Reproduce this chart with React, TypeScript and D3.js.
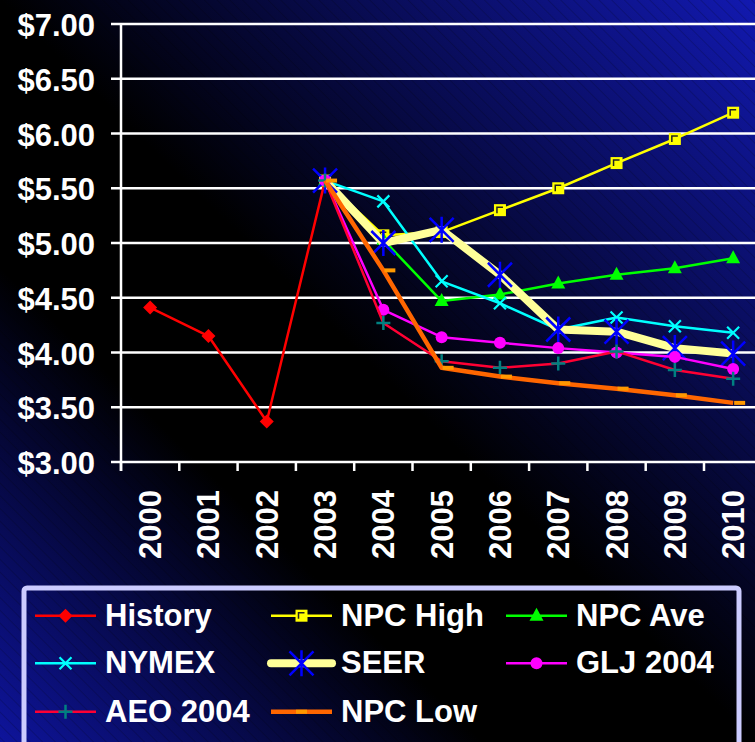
import React from 'react';
import * as d3 from 'd3';

const years = ['2000', '2001', '2002', '2003', '2004', '2005', '2006', '2007', '2008', '2009', '2010'];
const yTicks = [3, 3.5, 4, 4.5, 5, 5.5, 6, 6.5, 7];

const historyYears = ['2000', '2001', '2002', '2003'];
const historyValues = [4.41, 4.15, 3.37, 5.57];

const forecastYears = ['2003', '2004', '2005', '2006', '2007', '2008', '2009', '2010'];
const npcHigh = [5.57, 5.07, 5.10, 5.30, 5.50, 5.73, 5.95, 6.19];
const npcAve = [5.57, 5.03, 4.47, 4.53, 4.63, 4.71, 4.77, 4.86];
const nymex = [5.57, 5.38, 4.65, 4.45, 4.21, 4.32, 4.24, 4.18];
const seer = [5.57, 5.00, 5.12, 4.71, 4.21, 4.19, 4.04, 3.99];
const glj = [5.57, 4.39, 4.14, 4.09, 4.04, 4.00, 3.96, 3.85];
const aeo = [5.57, 4.27, 3.92, 3.86, 3.90, 4.01, 3.84, 3.76];
const npcLow = [5.57, 4.75, 3.86, 3.78, 3.72, 3.67, 3.61, 3.54];

type Marker = 'diamond' | 'square' | 'triangle' | 'x' | 'asterisk' | 'circle' | 'plus' | 'dash';

interface Series {
  name: string;
  xs: string[];
  values: number[];
  line: string;
  width: number;
  marker: Marker;
  markerColor: string;
}

const series: Series[] = [
  { name: 'History', xs: historyYears, values: historyValues, line: '#FF0000', width: 2.5, marker: 'diamond', markerColor: '#FF0000' },
  { name: 'NPC High', xs: forecastYears, values: npcHigh, line: '#FFFF00', width: 2.5, marker: 'square', markerColor: '#FFFF00' },
  { name: 'NPC Ave', xs: forecastYears, values: npcAve, line: '#00FF00', width: 2.5, marker: 'triangle', markerColor: '#00FF00' },
  { name: 'NYMEX', xs: forecastYears, values: nymex, line: '#00FFFF', width: 2.5, marker: 'x', markerColor: '#00FFFF' },
  { name: 'SEER', xs: forecastYears, values: seer, line: '#FFFF99', width: 8, marker: 'asterisk', markerColor: '#0000FF' },
  { name: 'GLJ 2004', xs: forecastYears, values: glj, line: '#FF00FF', width: 2.5, marker: 'circle', markerColor: '#FF00FF' },
  { name: 'AEO 2004', xs: forecastYears, values: aeo, line: '#FF0033', width: 2.5, marker: 'plus', markerColor: '#008080' },
  { name: 'NPC Low', xs: forecastYears, values: npcLow, line: '#FF6600', width: 4.5, marker: 'dash', markerColor: '#FF9900' },
];

function MarkerShape({ type, x, y, color }: { type: Marker; x: number; y: number; color: string }) {
  switch (type) {
    case 'diamond':
      return <path d={`M${x},${y - 7}L${x + 7},${y}L${x},${y + 7}L${x - 7},${y}Z`} fill={color} />;
    case 'square':
      return (
        <g>
          <rect x={x - 6} y={y - 6} width={12} height={12} fill={color} />
          <path d={`M${x - 3},${y + 3}V${y - 3}H${x + 3}`} stroke="#222" strokeWidth={1.5} fill="none" />
        </g>
      );
    case 'triangle':
      return <path d={`M${x},${y - 8}L${x + 7},${y + 5}L${x - 7},${y + 5}Z`} fill={color} />;
    case 'x':
      return (
        <path d={`M${x - 6},${y - 6}L${x + 6},${y + 6}M${x + 6},${y - 6}L${x - 6},${y + 6}`} stroke={color} strokeWidth={2.2} />
      );
    case 'asterisk':
      return (
        <path
          d={`M${x},${y - 13}V${y + 13}M${x - 12},${y - 12}L${x + 12},${y + 12}M${x + 12},${y - 12}L${x - 12},${y + 12}`}
          stroke={color}
          strokeWidth={2.5}
        />
      );
    case 'circle':
      return <circle cx={x} cy={y} r={6} fill={color} />;
    case 'plus':
      return <path d={`M${x - 7},${y}H${x + 7}M${x},${y - 7}V${y + 7}`} stroke={color} strokeWidth={2.5} />;
    case 'dash':
      return <rect x={x + 1} y={y - 2} width={11} height={4} fill={color} />;
  }
  return null;
}

export default function App() {
  const W = 755;
  const H = 742;
  const x = d3.scaleBand<string>().domain(years).range([121, 121 + 11 * 58.3]);
  const y = d3.scaleLinear().domain([3, 7]).range([462, 24]);
  const cx = (yr: string) => (x(yr) as number) + x.bandwidth() / 2;
  const line = d3
    .line<[string, number]>()
    .x((d) => cx(d[0]))
    .y((d) => y(d[1]));

  const legendCols = [35, 271, 506];
  const legendRows = [615.7, 663.3, 711.7];
  const font = '"Liberation Sans", Arial, sans-serif';

  return (
    <svg width={W} height={H} style={{ position: 'absolute', left: 0, top: 0, display: 'block' }}>
      <defs>
        <linearGradient id="bg" x1="1" y1="0" x2="0" y2="1">
          <stop offset="0" stopColor="#1219b0" />
          <stop offset="0.5" stopColor="#000000" />
          <stop offset="0.68" stopColor="#000000" />
          <stop offset="1" stopColor="#0e149c" />
        </linearGradient>
        <pattern id="stripes" width={9} height={9} patternUnits="userSpaceOnUse" patternTransform="rotate(-45)">
          <line x1={0} y1={0} x2={0} y2={9} stroke="rgba(0,0,0,0.28)" strokeWidth={1.2} />
        </pattern>
      </defs>
      <rect x={0} y={0} width={W} height={H} fill="url(#bg)" />
      <rect x={0} y={0} width={W} height={H} fill="url(#stripes)" />

      {/* gridlines */}
      {yTicks.map((t) => (
        <line key={t} x1={111} x2={W} y1={y(t)} y2={y(t)} stroke="#FFFFFF" strokeWidth={2.5} />
      ))}
      {/* y axis */}
      <line x1={121} x2={121} y1={y(7) - 1} y2={y(3) + 9} stroke="#FFFFFF" strokeWidth={2.5} />
      {/* x ticks */}
      {years.map((yr, i) => (
        <line key={yr} x1={121 + i * x.step()} x2={121 + i * x.step()} y1={y(3)} y2={y(3) + 9} stroke="#FFFFFF" strokeWidth={2.5} />
      ))}
      {/* y labels */}
      {yTicks.map((t) => (
        <text
          key={t}
          x={95}
          y={y(t) + 12}
          textAnchor="end"
          fill="#FFFFFF"
          fontFamily={font}
          fontWeight="bold"
          fontSize={31}
        >
          {'$' + t.toFixed(2)}
        </text>
      ))}
      {/* x labels */}
      {years.map((yr) => (
        <text
          key={yr}
          transform={`translate(${cx(yr) + 11},490) rotate(-90)`}
          textAnchor="end"
          fill="#FFFFFF"
          fontFamily={font}
          fontWeight="bold"
          fontSize={31}
        >
          {yr}
        </text>
      ))}

      {/* series */}
      {series.map((s) => {
        const pts: [string, number][] = s.xs.map((yr, i) => [yr, s.values[i]]);
        return (
          <g key={s.name}>
            <path d={line(pts) || ''} fill="none" stroke={s.line} strokeWidth={s.width} strokeLinejoin="round" />
            {pts.map((p) => (
              <MarkerShape key={p[0]} type={s.marker} x={cx(p[0])} y={y(p[1])} color={s.markerColor} />
            ))}
          </g>
        );
      })}

      {/* legend */}
      <rect x={24} y={588} width={715} height={200} rx={3} fill="none" stroke="#CCCCFF" strokeWidth={5} />
      {series.map((s, i) => {
        const col = legendCols[i % 3];
        const row = legendRows[Math.floor(i / 3)];
        return (
          <g key={s.name}>
            <line
              x1={col}
              x2={col + 61}
              y1={row}
              y2={row}
              stroke={s.line}
              strokeWidth={s.width}
              strokeLinecap={s.name === 'SEER' ? 'round' : 'butt'}
            />
            <MarkerShape type={s.marker} x={col + (s.marker === 'dash' ? 24 : 30.5)} y={row} color={s.markerColor} />
            <text x={col + 70} y={row + 10} fill="#FFFFFF" fontFamily={font} fontWeight="bold" fontSize={31}>
              {s.name}
            </text>
          </g>
        );
      })}
    </svg>
  );
}
